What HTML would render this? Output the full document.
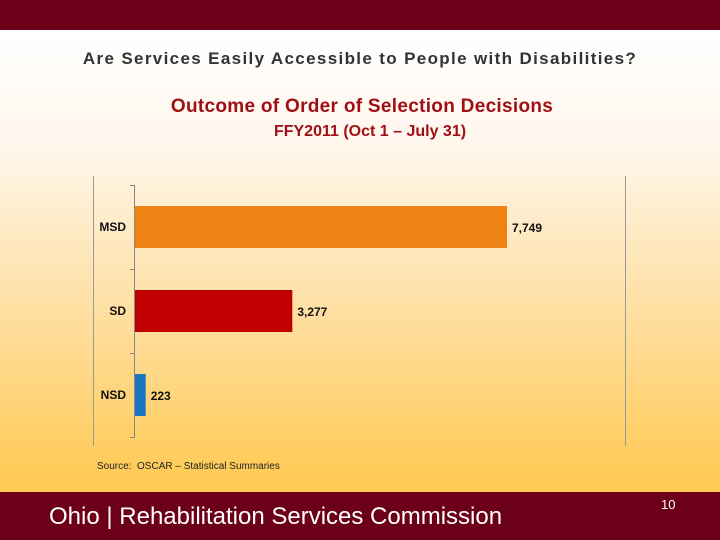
<!DOCTYPE html>
<html><head><meta charset="utf-8"><style>
body{margin:0;width:720px;height:540px;overflow:hidden;font-family:"Liberation Sans",Arial,sans-serif}
#slide{position:relative;width:720px;height:540px;background:linear-gradient(to bottom,#fff 30px,#fff7ee 140px,#ffe3b0 280px,#ffca55 480px)}
.abs{position:absolute;white-space:nowrap}
</style></head><body>
<div id="slide">
<div class="abs" style="left:0;top:0;width:720px;height:30px;background:#6b0018"></div>
<div class="abs" style="left:0;width:720px;top:49px;text-align:center;font-size:17px;font-weight:bold;color:#333;letter-spacing:1.35px">Are Services Easily Accessible to People with Disabilities?</div>
<div class="abs" style="left:0;width:724px;top:96px;text-align:center;font-size:19px;font-weight:bold;color:#a00f14;letter-spacing:0.3px">Outcome of Order of Selection Decisions</div>
<div class="abs" style="left:0;width:740px;top:123px;text-align:center;font-size:16px;font-weight:bold;color:#a00f14">FFY2011 (Oct 1 – July 31)</div>
<svg class="abs" style="left:0;top:0" width="720" height="540" id="chart"></svg>
<div class="abs" style="left:97px;top:461px;font-size:10px;color:#222">Source:&nbsp; OSCAR – Statistical Summaries</div>
<div class="abs" style="left:0;top:492px;width:720px;height:48px;background:#6b0018"></div>
<div class="abs" style="left:49px;top:503px;font-size:24px;color:#fff">Ohio | Rehabilitation Services Commission</div>
<div class="abs" style="left:661px;top:497px;font-size:13px;color:#fff">10</div>
</div>
<script>
const categories=["MSD","SD","NSD"];
const values=[7749,3277,223];
const valueLabels=["7,749","3,277","223"];
const colors=["#ee8212","#c00000","#1b75c0"];
const NS="http://www.w3.org/2000/svg";
const svg=document.getElementById('chart');
const x0=135,pxPerUnit=372/7749,yTop=185,band=84,barH=42;
const xs=v=>x0+v*pxPerUnit;
const yb=i=>yTop+i*band;
function mk(t,a){const e=document.createElementNS(NS,t);for(const k in a)e.setAttribute(k,a[k]);svg.appendChild(e);return e;}
let f=mk('path',{d:'M93.5 176 V446 M625.5 176 V446',stroke:'#999','stroke-width':1,fill:'none'});


let ax=mk('line',{x1:x0-0.5,x2:x0-0.5,y1:yTop,y2:yTop+band*categories.length,stroke:'#888'});


for(let i=0;i<=categories.length;i++){
 let t=mk('line',{x1:x0-5,x2:x0,y1:yb(i)+0.5,y2:yb(i)+0.5,stroke:'#888'});
 
 
}
categories.forEach((c,i)=>{
 const y=yb(i)+(band-barH)/2;
 let r=mk('rect',{x:x0,y:y,width:xs(values[i])-x0,height:barH,fill:colors[i]});
 
 
 let l=mk('text',{x:x0-9,y:y+barH/2+4,'text-anchor':'end','font-size':12,'font-weight':'bold',fill:'#111'});
 l.textContent=c;
 
 
 let v=mk('text',{x:xs(values[i])+5,y:y+barH/2+5,'font-size':12,'font-weight':'bold',fill:'#111'});
 v.textContent=valueLabels[i];
 
 
});
</script>
</body></html>
